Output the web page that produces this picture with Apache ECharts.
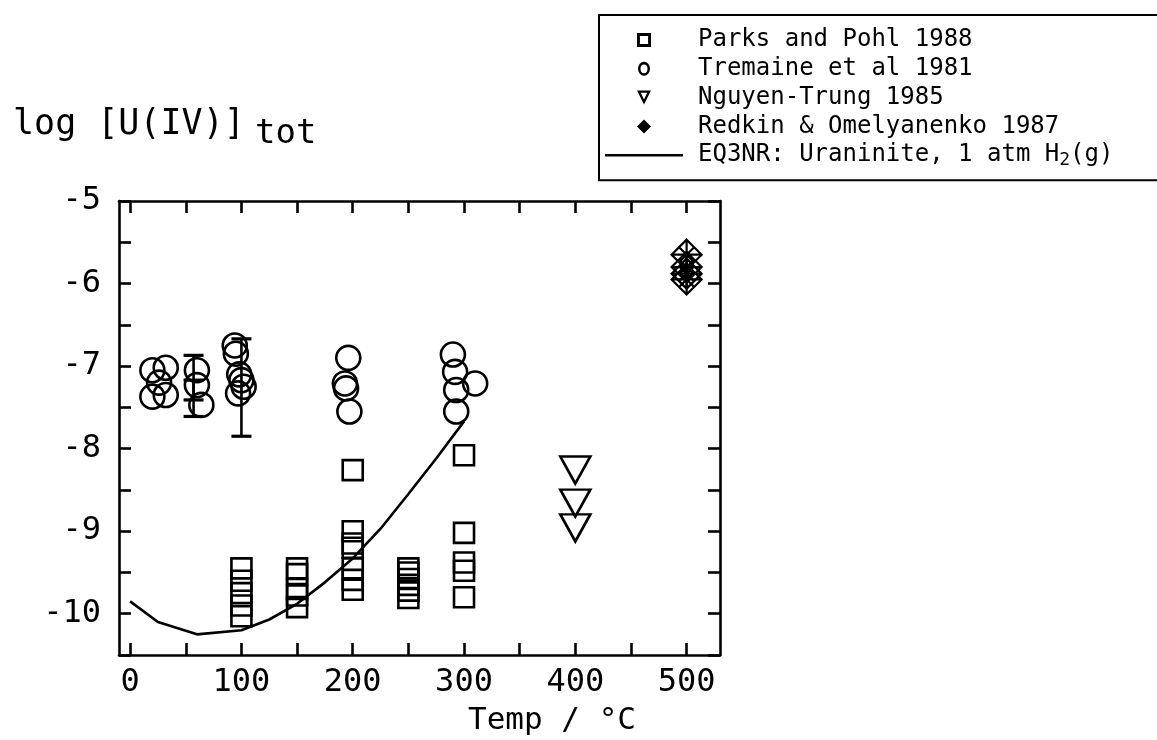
<!DOCTYPE html>
<html><head><meta charset="utf-8">
<script src="https://cdn.jsdelivr.net/npm/echarts@6/dist/echarts.min.js"></script>
<style>html,body{margin:0;padding:0;background:#fff}#c{width:1157px;height:740px}</style>
</head><body><div id="c"></div>
<script>
// ---- data ----
const xTickValues = [0, 50, 100, 150, 200, 250, 300, 350, 400, 450, 500];
const xLabelValues = [0, 100, 200, 300, 400, 500];

const parksT = [100,100,100,100,100, 150,150,150,150,150, 200,200,200,200,200,200,200, 250,250,250,250,250,250, 300,300,300,300,300];
const parksV = [-9.45,-9.6,-9.75,-9.9,-10.03, -9.45,-9.52,-9.7,-9.78,-9.92, -8.26,-9.0,-9.15,-9.2,-9.45,-9.59,-9.71, -9.45,-9.5,-9.58,-9.65,-9.72,-9.81, -8.08,-9.02,-9.38,-9.48,-9.8];

const tremT = [20,32,26,20,32, 60,60,64, 94,95,98,100,102,97, 196,193,194,197, 290,292,293,310,293];
const tremV = [-7.05,-7.02,-7.2,-7.37,-7.35, -7.05,-7.23,-7.47, -6.75,-6.85,-7.1,-7.17,-7.25,-7.33, -6.9,-7.21,-7.27,-7.55, -6.86,-7.07,-7.29,-7.21,-7.55];

const nguyenT = [400, 400, 400];
const nguyenV = [-8.26, -8.66, -8.96];

const redkinT = [500, 500, 500, 500];
const redkinV = [-5.65, -5.8, -5.88, -5.95];

const eq3T = [0, 25, 60, 100, 125, 150, 175, 200, 225, 250, 275, 300];
const eq3V = [-9.85, -10.1, -10.25, -10.2, -10.07, -9.88, -9.62, -9.33, -8.97, -8.55, -8.12, -7.67];

const errT = [57, 57, 100];
const errLow = [-7.61, -7.41, -7.85];
const errHigh = [-6.87, -7.17, -6.67];

// ---- build ----
const zip = (a, b) => a.map((v, i) => [v, b[i]]);
const FONT = 'DejaVu Sans Mono';
const hollow = {color: 'rgba(0,0,0,0)', borderColor: '#000', borderWidth: 2.6, opacity: 1};
const axisLine = {show: true, onZero: false, lineStyle: {color: '#000', width: 2.6}};
const tickStyle = {color: '#000', width: 2.6};

const chart = echarts.init(document.getElementById('c'), null, {renderer: 'canvas'});
chart.setOption({
  animation: false,
  backgroundColor: '#fff',
  grid: {left: 119, right: 437, top: 201, bottom: 85, containLabel: false},
  xAxis: [{
    type: 'value', min: -10, max: 530, position: 'bottom',
    axisLine: axisLine,
    axisTick: {show: true, inside: true, length: 12, customValues: xTickValues, lineStyle: tickStyle},
    axisLabel: {customValues: xLabelValues, fontSize: 32, fontFamily: FONT, color: '#000', margin: 12},
    splitLine: {show: false}
  }, {
    type: 'value', min: -10, max: 530, position: 'top',
    axisLine: axisLine,
    axisTick: {show: true, inside: true, length: 12, customValues: xTickValues, lineStyle: tickStyle},
    axisLabel: {show: false},
    splitLine: {show: false}
  }],
  yAxis: [{
    type: 'value', min: -10.5, max: -5, interval: 0.5, position: 'left',
    axisLine: axisLine,
    axisTick: {show: true, inside: true, length: 12, lineStyle: tickStyle},
    axisLabel: {fontSize: 32, fontFamily: FONT, color: '#000', margin: 18,
      formatter: v => (Math.abs(v - Math.round(v)) < 1e-9 ? String(Math.round(v)) : '')},
    splitLine: {show: false}
  }, {
    type: 'value', min: -10.5, max: -5, interval: 0.5, position: 'right',
    axisLine: axisLine,
    axisTick: {show: true, inside: true, length: 12, lineStyle: tickStyle},
    axisLabel: {show: false},
    splitLine: {show: false}
  }],
  legend: {
    orient: 'vertical', left: 599, top: 15,
    padding: [13, 120, 11, 6],
    itemWidth: 78, itemHeight: 14, itemGap: 4.8,
    symbolKeepAspect: true,
    borderColor: '#000', borderWidth: 2, backgroundColor: '#fff',
    selectedMode: false,
    textStyle: {fontFamily: FONT, fontSize: 24, lineHeight: 22, color: '#000', padding: [0, 0, 0, 10],
      rich: {
        n: {fontFamily: FONT, fontSize: 24, color: '#000'},
        s: {fontFamily: FONT, fontSize: 18, color: '#000', padding: [10, 0, 0, 0]}
      }},
    data: [
      {name: 'Parks and Pohl 1988', icon: 'path://M0,0 L12,0 L12,12 L0,12 Z M2.5,2.5 L2.5,9.5 L9.5,9.5 L9.5,2.5 Z', itemStyle: {color: '#000', borderWidth: 0}},
      {name: 'Tremaine et al 1981', icon: 'path://M7,0 A6,7 0 1 0 7,14 A6,7 0 1 0 7,0 Z M7,2.6 A3.5,4.4 0 1 1 7,11.4 A3.5,4.4 0 1 1 7,2.6 Z', itemStyle: {color: '#000', borderWidth: 0}},
      {name: 'Nguyen-Trung 1985', icon: 'path://M0,0 L14,0 L7,14 Z M3.8,2.2 L7,8.8 L10.2,2.2 Z', itemStyle: {color: '#000', borderWidth: 0}},
      {name: 'Redkin & Omelyanenko 1987', icon: 'path://M8,0 L16,8 L8,16 L0,8 Z', itemStyle: {color: '#000', borderWidth: 0}},
      {name: 'EQ3NR: Uraninite, 1 atm H2(g)', icon: 'path://M0,0 L78,0 L78,2.5 L0,2.5 Z', itemStyle: {color: '#000', borderWidth: 0}}
    ],
    formatter: function (name) {
      if (name.indexOf('EQ3NR') === 0) return '{n|EQ3NR: Uraninite, 1 atm H}{s|2}{n|(g)}';
      return name;
    }
  },
  graphic: [
    {type: 'text', left: 13, top: 107, style: {text: 'log [U(IV)]', font: '35px "DejaVu Sans Mono"', fill: '#000'}},
    {type: 'text', left: 255, top: 117, style: {text: 'tot', font: '34px "DejaVu Sans Mono"', fill: '#000'}},
    {type: 'text', left: 468, top: 705, style: {text: 'Temp / °C', font: '31px "DejaVu Sans Mono"', fill: '#000'}}
  ],
  series: [
    {name: 'EQ3NR: Uraninite, 1 atm H2(g)', type: 'line', data: zip(eq3T, eq3V), symbol: 'none',
      lineStyle: {color: '#000', width: 2.6}, itemStyle: {color: '#000'}, z: 1},
    {name: 'Parks and Pohl 1988', type: 'scatter', data: zip(parksT, parksV), symbol: 'rect', symbolSize: 20, itemStyle: hollow, z: 2},
    {name: 'Tremaine et al 1981', type: 'scatter', data: zip(tremT, tremV), symbol: 'circle', symbolSize: 24, itemStyle: hollow, z: 2},
    {name: 'Nguyen-Trung 1985', type: 'scatter', data: zip(nguyenT, nguyenV), symbol: 'triangle', symbolSize: [30, 27], symbolRotate: 180, itemStyle: hollow, z: 2},
    {name: 'Redkin & Omelyanenko 1987', type: 'scatter', data: zip(redkinT, redkinV),
      symbol: 'path://M15,0 L30,15 L15,30 L0,15 Z M15,0 L15,30 M0,15 L30,15 M7.5,7.5 L22.5,22.5 M22.5,7.5 L7.5,22.5',
      symbolSize: 30, itemStyle: {color: 'rgba(0,0,0,0)', borderColor: '#000', borderWidth: 2.2, opacity: 1}, z: 2},
    {name: 'errors', type: 'custom', data: errT.map((t, i) => [t, errLow[i], errHigh[i]]),
      encode: {x: 0, y: [1, 2]}, z: 3,
      renderItem: function (params, api) {
        const x = api.value(0), lo = api.value(1), hi = api.value(2);
        const p1 = api.coord([x, lo]), p2 = api.coord([x, hi]);
        const w = 10;
        const st = {stroke: '#000', lineWidth: 3.2};
        return {type: 'group', children: [
          {type: 'line', shape: {x1: p1[0], y1: p1[1], x2: p2[0], y2: p2[1]}, style: {stroke: '#000', lineWidth: 2.6}},
          {type: 'line', shape: {x1: p1[0] - w, y1: p1[1], x2: p1[0] + w, y2: p1[1]}, style: st},
          {type: 'line', shape: {x1: p2[0] - w, y1: p2[1], x2: p2[0] + w, y2: p2[1]}, style: st}
        ]};
      }}
  ]
});
</script>
</body></html>
